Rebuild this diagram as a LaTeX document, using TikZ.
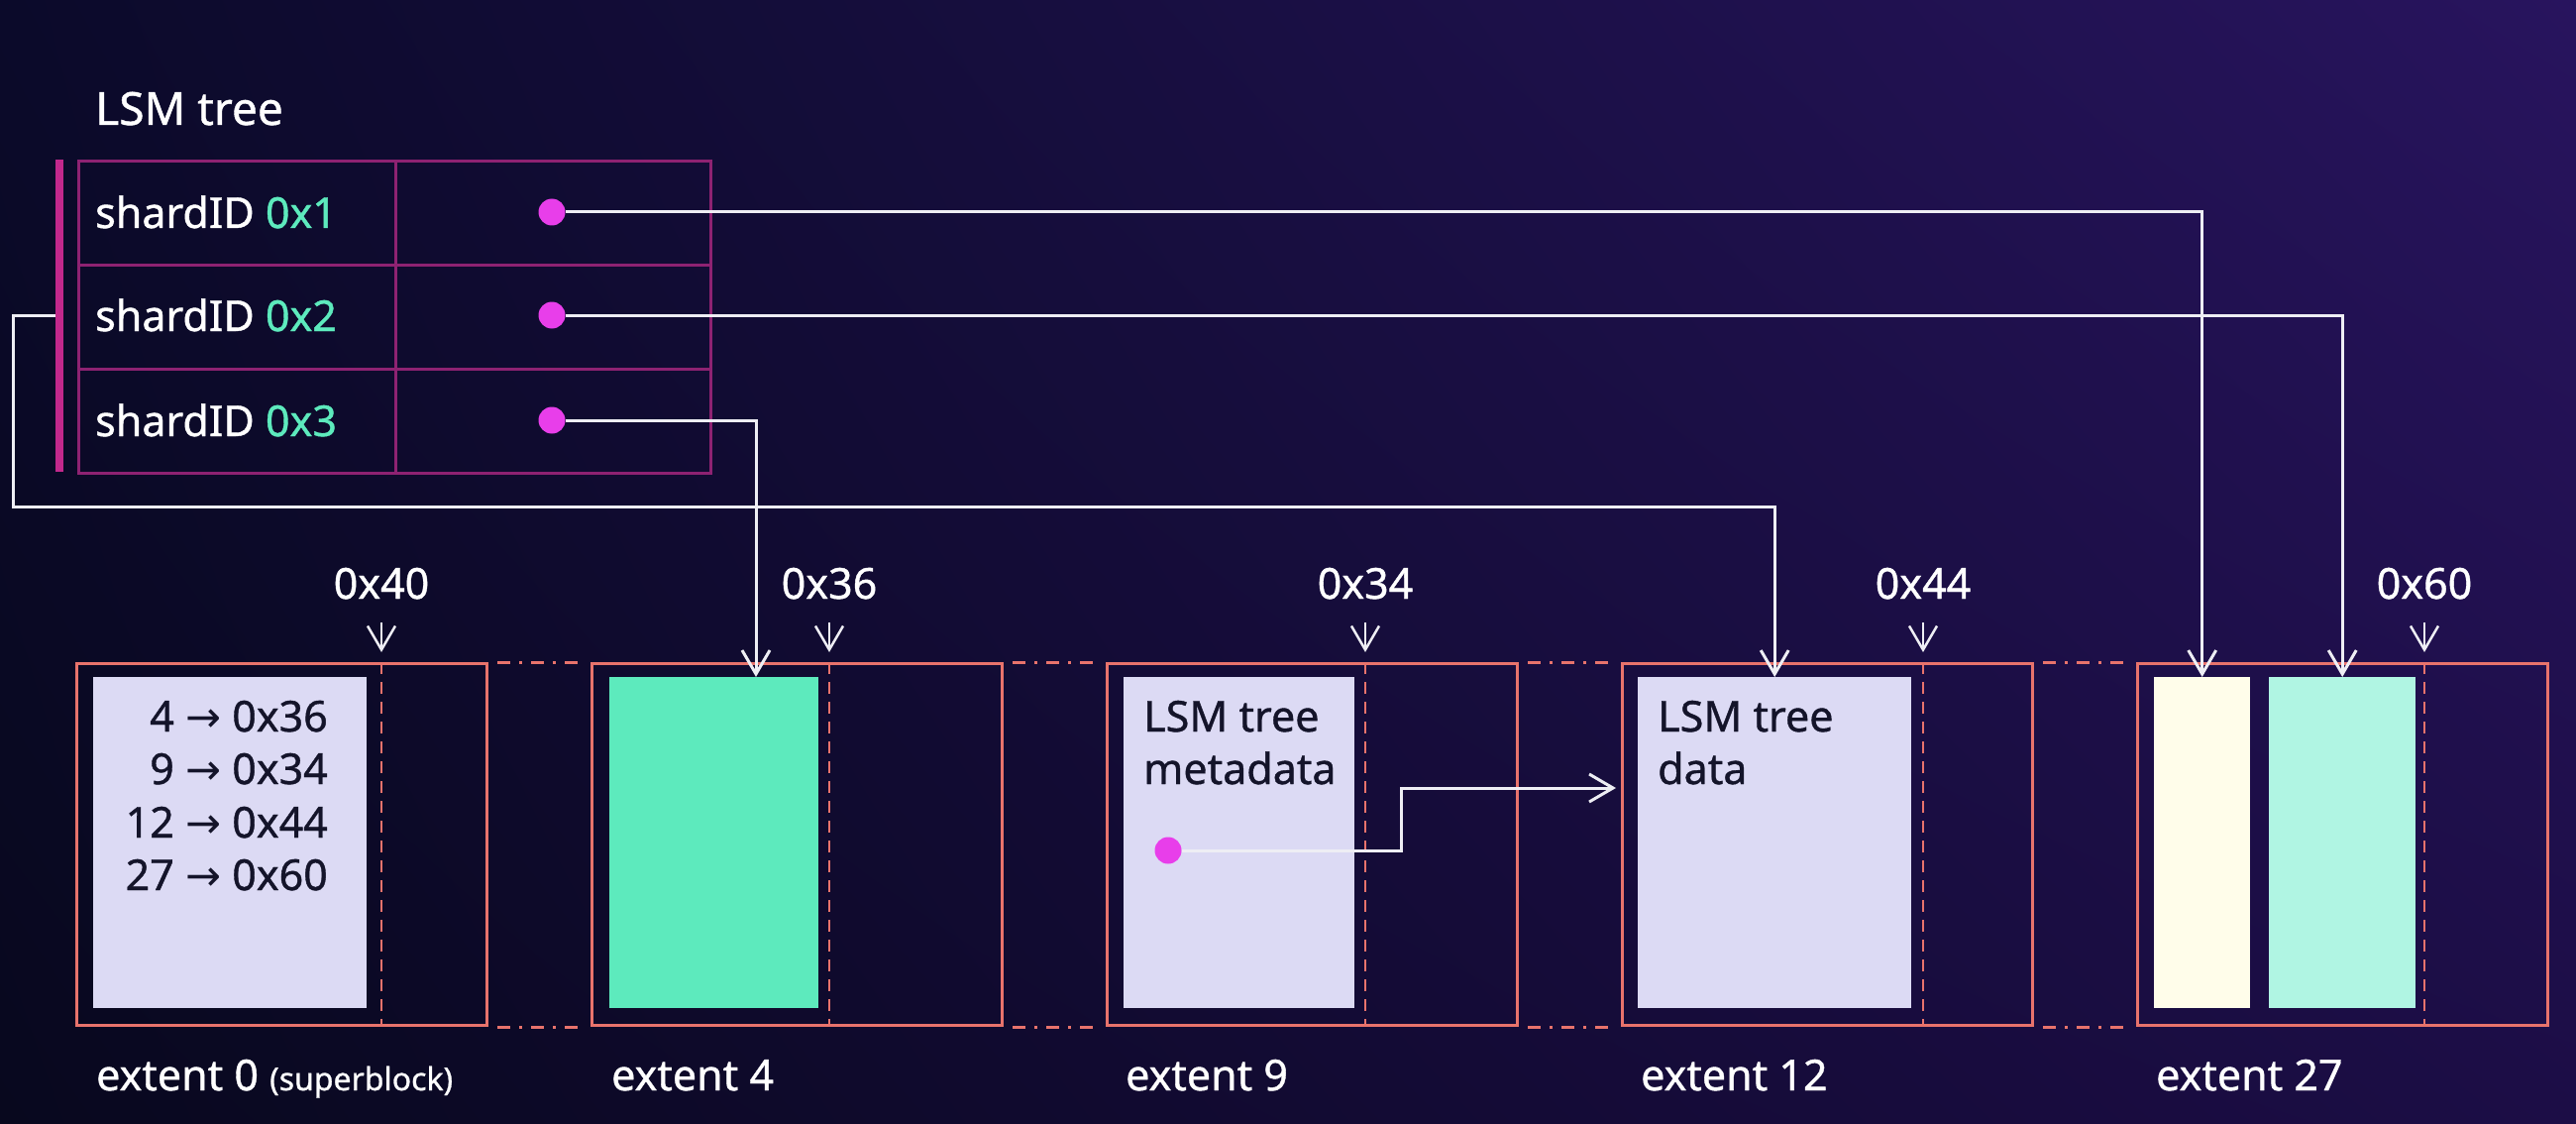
\documentclass[tikz,border=0pt]{standalone}
\usepackage{fontspec}
\setmainfont{Noto Sans}[RawFeature={embolden=0.9}]
\newfontfamily\symf{DejaVu Sans}
\usetikzlibrary{arrows.meta,shadings}
\definecolor{bgUL}{HTML}{0B0A2A}
\definecolor{bgUR}{HTML}{28145E}
\definecolor{bgLL}{HTML}{08081E}
\definecolor{bgLR}{HTML}{1C0D46}
\definecolor{salmon}{HTML}{E8736C}
\definecolor{tabc}{HTML}{8E2272}
\definecolor{barc}{HTML}{C2288C}
\definecolor{dotc}{HTML}{E83EEA}
\definecolor{mint}{HTML}{5DEABD}
\definecolor{lav}{HTML}{DCDAF4}
\definecolor{cream}{HTML}{FFFDEA}
\definecolor{aqua}{HTML}{B0F5E3}
\definecolor{linec}{HTML}{EEEEF4}
\definecolor{darktxt}{HTML}{14142A}
\begin{document}
\begin{tikzpicture}[x=1pt,y=-1pt,
  extent/.style={draw=salmon, line width=3pt, minimum width=414pt, minimum height=365pt, anchor=north west, inner sep=0pt},
  inbox/.style={anchor=north west, inner sep=0pt, minimum height=334pt},
  cell/.style={draw=tabc, line width=3pt, anchor=north west, inner sep=0pt, minimum height=105pt},
  dot/.style={circle, fill=dotc, minimum size=27pt, inner sep=0pt},
  conn/.style={draw=linec, line width=3pt, -{Straight Barb[length=24pt,width=28pt]}},
  ptr/.style={draw=linec, line width=2.5pt, -{Straight Barb[length=24pt,width=28pt]}},
  wtxt/.style={text=white, font=\fontsize{43}{53}\selectfont, inner sep=0pt},
  dtxt/.style={text=darktxt, font=\fontsize{43}{53}\selectfont, inner sep=0pt},
  vdash/.style={draw=salmon, line width=2.5pt, dash pattern=on 12pt off 8pt},
  ddot/.style={draw=salmon, line width=3pt, dash pattern=on 13pt off 9pt on 3pt off 9pt, shorten <=9pt, shorten >=6pt}
]
\shade[upper left=bgUL, upper right=bgUR, lower left=bgLL, lower right=bgLR] (0,0) rectangle (2600,1134);
\useasboundingbox (0,0) rectangle (2600,1134);

% ---- LSM tree table
\node[wtxt, anchor=base west, font=\fontsize{46}{55}\selectfont] (title) at (96,126) {LSM tree};
\node[cell, minimum width=320pt] (k1) at (78,161) {};
\node[cell, minimum width=320pt] (k2) at (78,266) {};
\node[cell, minimum width=320pt] (k3) at (78,371) {};
\node[cell, minimum width=318pt] (v1) at (398,161) {};
\node[cell, minimum width=318pt] (v2) at (398,266) {};
\node[cell, minimum width=318pt] (v3) at (398,371) {};
\node[fill=barc, anchor=north west, inner sep=0pt, minimum width=8pt, minimum height=315pt] (bar) at (56,161) {};
\node[wtxt, anchor=base west] (s1) at (96,230) {shardID \textcolor{mint}{0x1}};
\node[wtxt, anchor=base west] (s2) at (96,334) {shardID \textcolor{mint}{0x2}};
\node[wtxt, anchor=base west] (s3) at (96,440) {shardID \textcolor{mint}{0x3}};
\node[dot] (d1) at (557,214) {};
\node[dot] (d2) at (557,318) {};
\node[dot] (d3) at (557,424) {};

% ---- extents
\node[extent] (e0) at (76,668) {};
\node[extent] (e4) at (596,668) {};
\node[extent] (e9) at (1116,668) {};
\node[extent] (e12) at (1636,668) {};
\node[extent] (e27) at (2156,668) {};

\draw[ddot] (e0.north east) -- (e4.north west);
\draw[ddot] (e0.south east) -- (e4.south west);
\draw[ddot] (e4.north east) -- (e9.north west);
\draw[ddot] (e4.south east) -- (e9.south west);
\draw[ddot] (e9.north east) -- (e12.north west);
\draw[ddot] (e9.south east) -- (e12.south west);
\draw[ddot] (e12.north east) -- (e27.north west);
\draw[ddot] (e12.south east) -- (e27.south west);

% inner blocks
\node[inbox, fill=lav, minimum width=276pt] (b0) at (94,683) {};
\node[inbox, fill=mint, minimum width=211pt] (b4) at (615,683) {};
\node[inbox, fill=lav, minimum width=233pt] (b9) at (1134,683) {};
\node[inbox, fill=lav, minimum width=276pt] (b12) at (1653,683) {};
\node[inbox, fill=cream, minimum width=97pt] (y27) at (2174,683) {};
\node[inbox, fill=aqua, minimum width=148pt] (c27) at (2290,683) {};

% write-pointer dashed lines
\foreach \x/\n in {385/0, 837/4, 1378/9, 1941/12, 2447/27} {
  \coordinate (wt\n) at (\x,668);
  \coordinate (wb\n) at (\x,1033);
  \coordinate (wp\n) at (\x,658);
  \coordinate (ws\n) at (\x,628);
  \draw[vdash] (wt\n) -- (wb\n);
  \draw[ptr] (ws\n) -- (wp\n);
}
\node[wtxt, anchor=base] (l0) at (385,604) {0x40};
\node[wtxt, anchor=base] (l4) at (837,604) {0x36};
\node[wtxt, anchor=base] (l9) at (1378,604) {0x34};
\node[wtxt, anchor=base] (l12) at (1941,604) {0x44};
\node[wtxt, anchor=base] (l27) at (2447,604) {0x60};

% superblock text
\node[dtxt, anchor=base east] (r1) at (331,738) {4 {\symf →} 0x36};
\node[dtxt, anchor=base east] (r2) at (331,791) {9 {\symf →} 0x34};
\node[dtxt, anchor=base east] (r3) at (331,845) {12 {\symf →} 0x44};
\node[dtxt, anchor=base east] (r4) at (331,898) {27 {\symf →} 0x60};

\node[dtxt, anchor=base west] (m1) at (1154,738) {LSM tree};
\node[dtxt, anchor=base west] (m2) at (1154,791) {metadata};
\node[dtxt, anchor=base west] (t1) at (1673,738) {LSM tree};
\node[dtxt, anchor=base west] (t2) at (1673,791) {data};

% extent labels
\node[wtxt, anchor=base west] (x0) at (97,1100) {extent 0 {\fontsize{32}{38}\selectfont(superblock)}};
\node[wtxt, anchor=base west] (x4) at (617,1100) {extent 4};
\node[wtxt, anchor=base west] (x9) at (1136,1100) {extent 9};
\node[wtxt, anchor=base west] (x12) at (1656,1100) {extent 12};
\node[wtxt, anchor=base west] (x27) at (2176,1100) {extent 27};

% ---- connectors
\coordinate (t4) at (763,683);
\coordinate (lb) at (13,511);
\coordinate (mt) at (1631,795);
\coordinate (mk) at (1414,858);
\draw[conn] (d1) -| (y27.north);
\draw[conn] (d2) -| (c27.north);
\draw[conn] (d3) -| (t4);
\draw[conn] (bar.west |- d2) -| (lb) -| (b12.north);
\node[dot] (dm) at (1179,858) {};
\draw[conn] (dm) -- (mk) |- (mt);
\end{tikzpicture}
\end{document}
